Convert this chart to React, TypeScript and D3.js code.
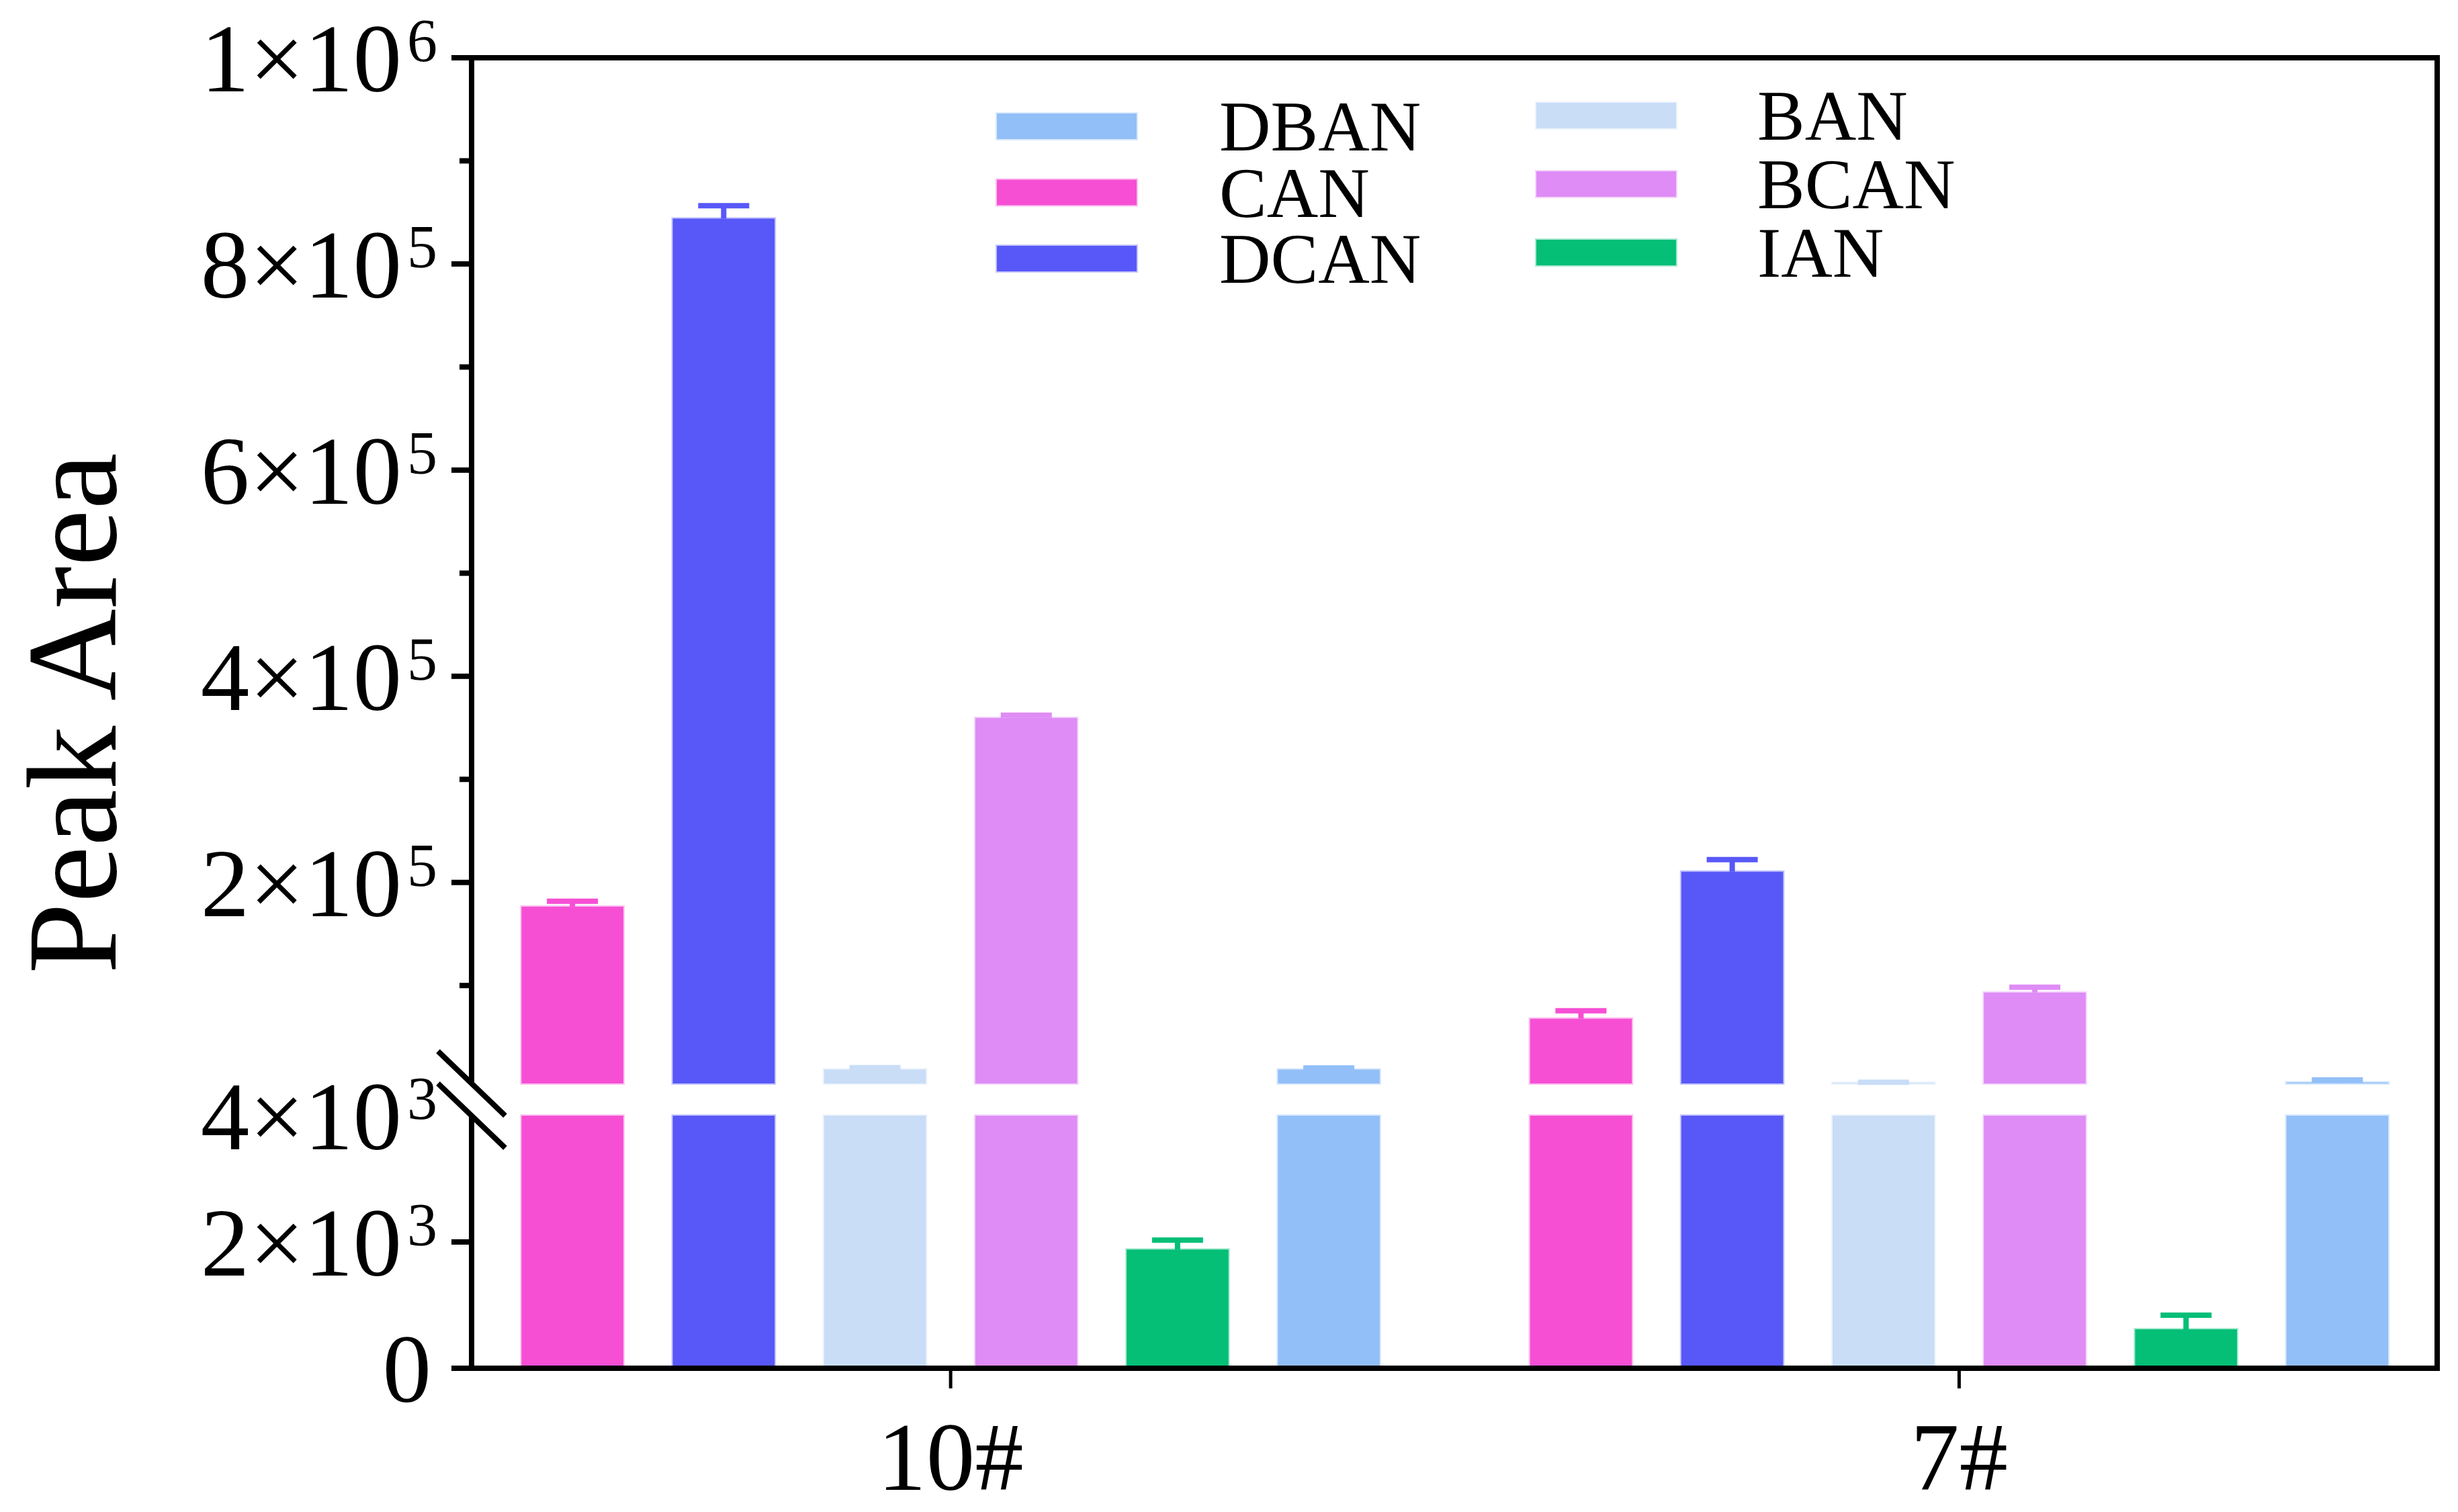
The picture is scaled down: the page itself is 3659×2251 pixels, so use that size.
import React from "react";
import * as d3 from "d3";

// groups on the x axis and the six series drawn in each group
const groups = ["10#", "7#"];
const series = ["CAN", "DCAN", "BAN", "BCAN", "IAN", "DBAN"];
const seriesColors = ["#f64fd4", "#5858f8", "#c9ddf7", "#df8cf6", "#05bf77", "#92bff8"];

// peak areas (mean) and error (+) per group, same order as series
const values10 = [176500, 844000, 18500, 359600, 1880, 18500];
const errors10 = [5300, 12500, 1800, 2600, 150, 1500];
const values7 = [67800, 210400, 5600, 93200, 617, 6000];
const errors7 = [7800, 11700, 500, 5200, 223, 2500];

// axis ticks, broken axis 0-4000 | 5000-1e6
const lowerMajor = [0, 2000, 4000];
const upperMajor = [200000, 400000, 600000, 800000, 1000000];
const upperMinor = [100000, 300000, 500000, 700000, 900000];

// legend layout: two columns
const legendCol1 = ["DBAN", "CAN", "DCAN"];
const legendCol2 = ["BAN", "BCAN", "IAN"];

const W = 3659;
const H = 2251;
const FONT = "'Liberation Serif', 'Times New Roman', serif";

const left = 702;
const right = 3628;
const top = 86;
const bottom = 2037;
const breakLow = 1661; // top of the lower segment (4000)
const breakHigh = 1613; // bottom of the upper segment (5000)

const x = d3.scaleLinear().domain([0.525, 2.474]).range([left, right]);
const yLow = d3.scaleLinear().domain([0, 4000]).range([bottom, breakLow]);
const yHigh = d3.scaleLinear().domain([5000, 1000000]).range([breakHigh, top]);

const barPitch = 0.15;
const barWidth = 0.101;
const capHalf = 38;
const lw = 8;

function sci(v: number) {
  if (v === 0) return { m: "0", e: "" };
  const e = Math.floor(Math.log10(v) + 1e-9);
  const m = Math.round(v / Math.pow(10, e));
  return { m: `${m}×10`, e: `${e}` };
}

function TickLabel({ v, y }: { v: number; y: number }) {
  const { m, e } = sci(v);
  if (!e) {
    return (
      <text x={642} y={y + 50} textAnchor="end" fontSize={145} fontFamily={FONT}>
        {m}
      </text>
    );
  }
  return (
    <text x={651} y={y + 50} textAnchor="end" fontSize={145} fontFamily={FONT}>
      {m}
      <tspan fontSize={90} dx={8} dy={-45}>
        {e}
      </tspan>
    </text>
  );
}

function Bars({ gi, values, errors }: { gi: number; values: number[]; errors: number[] }) {
  const center = gi + 1;
  return (
    <g>
      {values.map((v, i) => {
        const cx = center + (i - 2.5) * barPitch;
        const x0 = x(cx - barWidth / 2);
        const w = x(cx + barWidth / 2) - x0;
        const px = x(cx);
        const color = seriesColors[i];
        const hi = v + errors[i];
        const lowTop = yLow(Math.min(v, 4000));
        const parts = [
          <rect key="lo" x={x0} y={lowTop} width={w} height={bottom - lowTop}
            fill={color} stroke={color} strokeOpacity={0.35} strokeWidth={4} />,
        ];
        if (v > 5000) {
          const t = yHigh(v);
          parts.push(
            <rect key="hi" x={x0} y={t} width={w} height={breakHigh - t}
              fill={color} stroke={color} strokeOpacity={0.35} strokeWidth={4} />
          );
        }
        const ys = v > 4000 ? yHigh(Math.max(v, 5000)) : yLow(v);
        const ye = v > 4000 ? yHigh(Math.max(hi, 5000)) : yLow(hi);
        parts.push(
          <g key="err" stroke={color} strokeWidth={lw}>
            <line x1={px} x2={px} y1={ys} y2={ye} />
            <line x1={px - capHalf} x2={px + capHalf} y1={ye} y2={ye} />
          </g>
        );
        return <g key={series[i]}>{parts}</g>;
      })}
    </g>
  );
}

function LegendColumn({ names, sx, tx, y0, step }: { names: string[]; sx: number; tx: number; y0: number; step: number }) {
  return (
    <g>
      {names.map((n, i) => {
        const cy = y0 + i * step;
        const color = seriesColors[series.indexOf(n)];
        return (
          <g key={n}>
            <rect x={sx} y={cy - 19} width={208} height={38} fill={color}
              stroke={color} strokeOpacity={0.35} strokeWidth={4} />
            <text x={tx} y={cy + 36} fontSize={106} fontFamily={FONT}>
              {n}
            </text>
          </g>
        );
      })}
    </g>
  );
}

export default function App() {
  const data = [
    { values: values10, errors: errors10 },
    { values: values7, errors: errors7 },
  ];
  return (
    <>
      <style>{`body{margin:0}`}</style>
      <svg width={W} height={H} style={{ display: "block", background: "#fff" }}>
        {/* bars */}
        {data.map((d, gi) => (
          <Bars key={groups[gi]} gi={gi} values={d.values} errors={d.errors} />
        ))}

        {/* frame: top, right, bottom */}
        <g stroke="#000" strokeWidth={lw} fill="none">
          <line x1={left - 30} x2={right + lw / 2} y1={top} y2={top} />
          <line x1={right} x2={right} y1={top} y2={bottom + lw / 2} />
          <line x1={left - 30} x2={right + lw / 2} y1={bottom} y2={bottom} />
          {/* broken left axis */}
          <line x1={left} x2={left} y1={top - lw / 2} y2={breakHigh} />
          <line x1={left} x2={left} y1={breakLow} y2={bottom} />
          {/* upper ticks */}
          {upperMajor.map((v) => (
            <line key={"M" + v} x1={left - 30} x2={left} y1={yHigh(v)} y2={yHigh(v)} />
          ))}
          {upperMinor.map((v) => (
            <line key={"m" + v} x1={left - 18} x2={left} y1={yHigh(v)} y2={yHigh(v)} />
          ))}
          {lowerMajor.filter((v) => v < 4000).map((v) => (
            <line key={"L" + v} x1={left - 30} x2={left} y1={yLow(v)} y2={yLow(v)} />
          ))}
          {/* break marks */}
          <line x1={left - 50} x2={left + 50} y1={breakHigh - 48} y2={breakHigh + 48} />
          <line x1={left - 50} x2={left + 50} y1={breakLow - 48} y2={breakLow + 48} />
        </g>

        {/* x ticks */}
        <g stroke="#000" strokeWidth={5}>
          {groups.map((g, gi) => (
            <line key={g} x1={x(gi + 1)} x2={x(gi + 1)} y1={bottom} y2={bottom + 30} />
          ))}
        </g>

        {/* y tick labels */}
        {upperMajor.map((v) => (
          <TickLabel key={"t" + v} v={v} y={yHigh(v)} />
        ))}
        {lowerMajor.map((v) => (
          <TickLabel key={"l" + v} v={v} y={yLow(v)} />
        ))}

        {/* x tick labels */}
        {groups.map((g, gi) => (
          <text key={g} x={x(gi + 1)} y={2218} textAnchor="middle" fontSize={145} fontFamily={FONT}>
            {g}
          </text>
        ))}

        {/* y axis title */}
        <text transform="translate(172,1062) rotate(-90)" textAnchor="middle" fontSize={190} fontFamily={FONT}>
          Peak Area
        </text>

        {/* legend */}
        <LegendColumn names={legendCol1} sx={1484} tx={1815} y0={188} step={98.5} />
        <LegendColumn names={legendCol2} sx={2287} tx={2616} y0={172} step={102} />
      </svg>
    </>
  );
}
